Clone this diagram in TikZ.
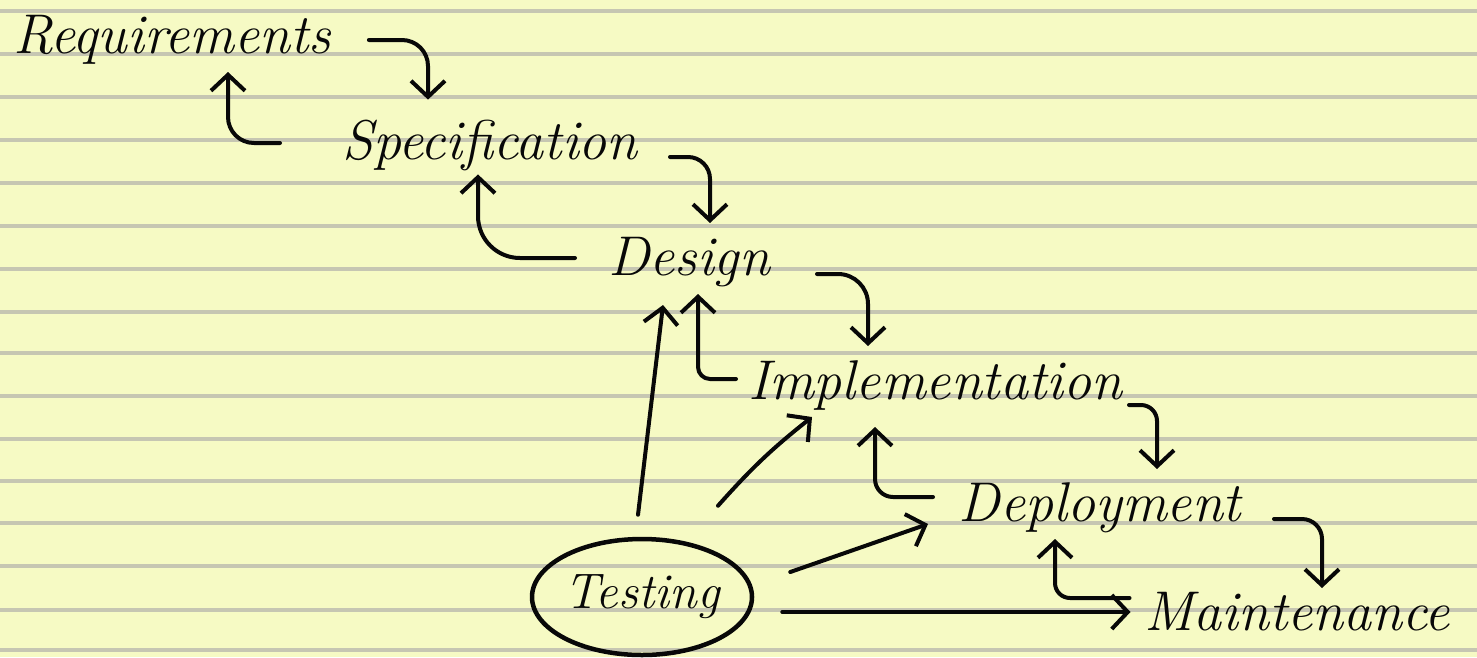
\documentclass[tikz,border=0pt]{standalone}
\usepackage{tikz}
\usetikzlibrary{positioning, arrows.meta, shapes}

\definecolor{paper}{RGB}{246,250,196}
\definecolor{ruling}{RGB}{198,198,178}
\definecolor{ink}{RGB}{8,8,8}

\begin{document}
\begin{tikzpicture}[x=1pt, y=-1pt, ->, >={Straight Barb[length=16pt,width=34pt]},
  line width=4pt, line cap=round, line join=round, color=ink,
  stage/.style={inner sep=0pt, minimum height=50pt, align=center,
    font=\fontsize{56}{60}\selectfont\itshape},
  rule/.style={-, draw=ruling, line width=3.5pt, line cap=butt},
  hook/.style={to path={-| (\tikztotarget) \tikztonodes}, rounded corners=#1},
  hook/.default=22pt,
]
  % the yellow paper
  \useasboundingbox (0,0) rectangle (1477,657);
  \fill[paper] (0,0) rectangle (1477,657);
  \foreach \ly in {11,54,97,140,183,226,269,312,353,396,439,481,523,566,610,650}
    \draw[rule] (0,\ly) -- (1477,\ly);

  % the stages
  \node[stage, minimum width=315pt] (req) at (172,40) {Requirements};
  \node[stage, minimum width=320pt] (spec) at (490,145) {Specification};
  \node[stage, minimum width=162pt, minimum height=64pt] (design) at (689,262) {Design};
  \node[stage, minimum width=380pt] (impl) at (935,385) {Implementation};
  \node[stage, minimum width=300pt, minimum height=70pt] (deploy) at (1100,508) {Deployment};
  \node[stage, minimum width=325pt] (maint) at (1297,612) {Maintenance};
  \node[stage, draw, ellipse, line width=4.5pt, minimum width=220pt, minimum height=116pt,
    font=\fontsize{50}{54}\selectfont\itshape] (test) at (642,597) {Testing};

  % down the waterfall and back up
  \path
    ([xshift=36pt]req.east) edge[hook=26pt] ([xshift=-62pt,yshift=18pt]spec.north)
    ([xshift=-48pt,yshift=2pt]spec.west) edge[hook=26pt] ([xshift=56pt,yshift=-5pt]req.south)
    ([xshift=18pt,yshift=-12pt]spec.east) edge[hook] ([xshift=21pt,yshift=5pt]design.north)
    ([xshift=-31pt,yshift=4pt]design.west) edge[hook=42pt] ([xshift=-12pt,yshift=-2pt]spec.south)
    ([xshift=45pt,yshift=-12pt]design.east) edge[hook=30pt] ([xshift=-67pt,yshift=12pt]impl.north)
    ([xshift=-7pt,yshift=6pt]impl.west) edge[hook=12pt] ([xshift=9pt,yshift=2pt]design.south)
    ([xshift=2pt,yshift=-20pt]impl.east) edge[hook=16pt] ([xshift=57pt,yshift=2pt]deploy.north)
    ([xshift=-15pt,yshift=11pt]deploy.west) edge[hook=18pt] ([xshift=-60pt,yshift=-15pt]impl.south)
    ([xshift=22pt,yshift=-11pt]deploy.east) edge[hook=20pt] ([xshift=25pt,yshift=-3pt]maint.north)
    ([xshift=-3pt,yshift=14pt]maint.west) edge[hook=15pt] ([xshift=-45pt,yshift=6pt]deploy.south);

  % testing feeds back to every later stage
  \path
    ([xshift=-4pt,yshift=22pt]test.north) edge ([xshift=-26pt,yshift=-9pt]design.south)
    ([xshift=76pt,yshift=31pt]test.north) edge[bend left=5] ([xshift=-123pt,yshift=-5pt]impl.south)
    ([xshift=36pt,yshift=25pt]test.east) edge ([xshift=-20pt,yshift=-16pt]deploy.west)
    ([xshift=28pt,yshift=-15pt]test.east) edge ([xshift=-2pt]maint.west);
\end{tikzpicture}
\end{document}
